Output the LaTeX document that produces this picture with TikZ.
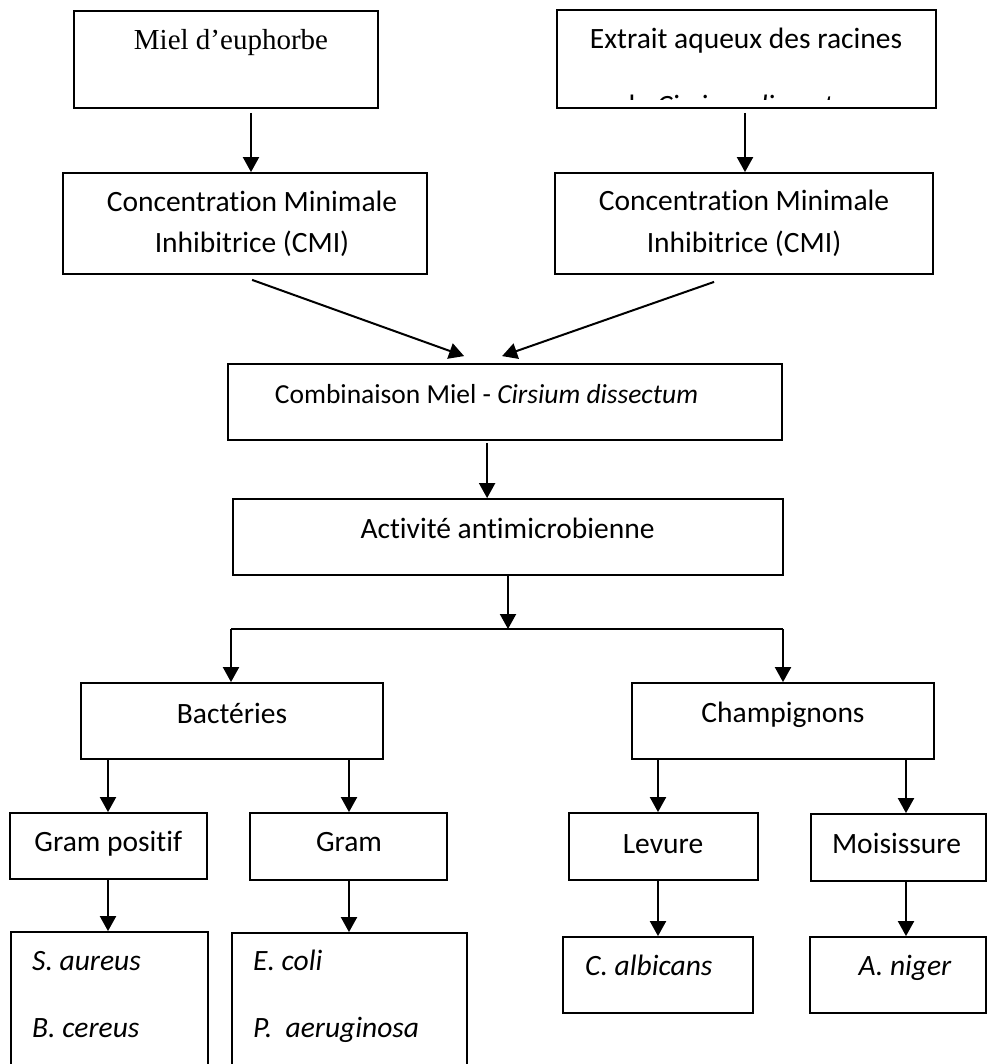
\documentclass[tikz,border=0pt]{standalone}
\usepackage{fontspec}
\setmainfont[Ligatures={NoCommon}]{Carlito}
\newfontfamily\timesf{Liberation Serif}
\usetikzlibrary{arrows.meta,calc}
\begin{document}
\begin{tikzpicture}[x=1pt,y=-1pt,
  box/.style={draw,line width=1.8pt,rectangle,inner sep=0pt},
  arr/.style={line width=2pt,-{Triangle[width=16pt,length=15pt]}},
  txt/.style={anchor=base,inner sep=0pt,font=\fontsize{29.5}{34}\selectfont},
  txtl/.style={anchor=base west,inner sep=0pt,font=\fontsize{29.5}{34}\selectfont\itshape},
]
\useasboundingbox[fill=white] (0,0) rectangle (988,1064);

% boxes
\node[box,minimum width=304pt,minimum height=97pt] (b1) at (226,59.5) {};
\node[box,minimum width=379pt,minimum height=98pt] (b2) at (746.5,59) {};
\node[box,minimum width=364pt,minimum height=101pt] (c1) at (245,223.5) {};
\node[box,minimum width=378pt,minimum height=101pt] (c2) at (744,223.5) {};
\node[box,minimum width=554pt,minimum height=76pt] (comb) at (505,402) {};
\node[box,minimum width=550pt,minimum height=76pt] (act) at (508,537) {};
\node[box,minimum width=302pt,minimum height=76pt] (bac) at (232,721) {};
\node[box,minimum width=302pt,minimum height=76pt] (cha) at (783,721) {};
\node[box,minimum width=197pt,minimum height=66pt] (gp) at (108.5,846) {};
\node[box,minimum width=197pt,minimum height=67pt] (gn) at (348.5,846.5) {};
\node[box,minimum width=189pt,minimum height=67pt] (lev) at (663.5,846.5) {};
\node[box,minimum width=175pt,minimum height=67pt] (moi) at (898.5,847.5) {};
\node[box,minimum width=197pt,minimum height=148pt] (sa) at (109.5,1006) {};
\node[box,minimum width=235pt,minimum height=148pt] (ec) at (349.5,1007) {};
\node[box,minimum width=190pt,minimum height=76pt] (ca) at (658,975) {};
\node[box,minimum width=176pt,minimum height=76pt] (an) at (898,975) {};

% texts
\node[txt,font=\fontsize{29}{34}\timesf] (t1) at (231,50) {Miel d’euphorbe};
\node[txt] (t2) at (746,49) {Extrait aqueux des racines};
\begin{scope}
\clip (560,90) rectangle (933,99.5);
\node[txt] (t2b) at (746,116) {de \textit{Cirsium dissectum}};
\end{scope}
\node[txt] (t3a) at (252,212) {Concentration Minimale};
\node[txt] (t3b) at (252,253) {Inhibitrice (CMI)};
\node[txt] (t4a) at (744,211) {Concentration Minimale};
\node[txt] (t4b) at (744,253) {Inhibitrice (CMI)};
\node[txt,font=\fontsize{27.5}{34}\selectfont] (t5) at (486.5,403) {Combinaison Miel - \textit{Cirsium dissectum}};
\node[txt] (t6) at (507.5,538) {Activité antimicrobienne};
\node[txt] (t7) at (232,723) {Bactéries};
\node[txt] (t8) at (783,722) {Champignons};
\node[txt] (t9) at (108.3,851) {Gram positif};
\node[txt] (t10) at (349,851) {Gram};
\node[txt] (t11) at (663,853) {Levure};
\node[txt] (t12) at (896.5,853) {Moisissure};
\node[txtl] (t13) at (32,970) {S. aureus};
\node[txtl] (t14) at (32,1037) {B. cereus};
\node[txtl] (t15) at (253,970) {E. coli};
\node[txtl] (t16) at (253,1037) {P.\ \ aeruginosa};
\node[txtl] (t17) at (585,975) {C. albicans};
\node[txt,font=\fontsize{29.5}{34}\selectfont\itshape] (t18) at (905,975) {A. niger};

% connectors
\coordinate (a1) at ($(b1.south)+(25,4)$);
\draw[arr] (a1) -- (a1 |- c1.north);
\coordinate (a2) at ($(b2.south)+(-1.5,4)$);
\draw[arr] (a2) -- (a2 |- c2.north);
\coordinate (d1s) at ($(c1.south west)+(190,5)$);
\coordinate (d1e) at ($(comb.north west)+(237,-7)$);
\draw[arr] (d1s) -- (d1e);
\coordinate (d2s) at ($(c2.south west)+(160,7)$);
\coordinate (d2e) at ($(comb.north west)+(275,-7)$);
\draw[arr] (d2s) -- (d2e);
\coordinate (a3) at ($(comb.south west)+(260,2)$);
\draw[arr] (a3) -- (a3 |- act.north);
\coordinate (sp) at (508,629);
\draw[arr] (act.south -| sp) -- (sp);
\draw[line width=2pt] ([xshift=-1pt]bac.north |- sp) -- (cha.north |- sp);
\draw[arr] ([xshift=-1pt]bac.north |- sp) -- ([xshift=-1pt]bac.north);
\draw[arr] (cha.north |- sp) -- (cha.north);
\coordinate (g1) at (108,760);
\coordinate (g2) at (349,760);
\coordinate (g3) at (658,760);
\coordinate (g4) at (906,760);
\draw[arr] (g1 |- bac.south) -- (g1 |- gp.north);
\draw[arr] (g2 |- bac.south) -- (g2 |- gn.north);
\draw[arr] (g3 |- cha.south) -- (g3 |- lev.north);
\draw[arr] (g4 |- cha.south) -- (g4 |- moi.north);
\draw[arr] (g1 |- gp.south) -- (g1 |- sa.north);
\draw[arr] (g2 |- gn.south) -- (g2 |- ec.north);
\draw[arr] (g3 |- lev.south) -- (g3 |- ca.north);
\draw[arr] (g4 |- moi.south) -- (g4 |- an.north);
\end{tikzpicture}
\end{document}
